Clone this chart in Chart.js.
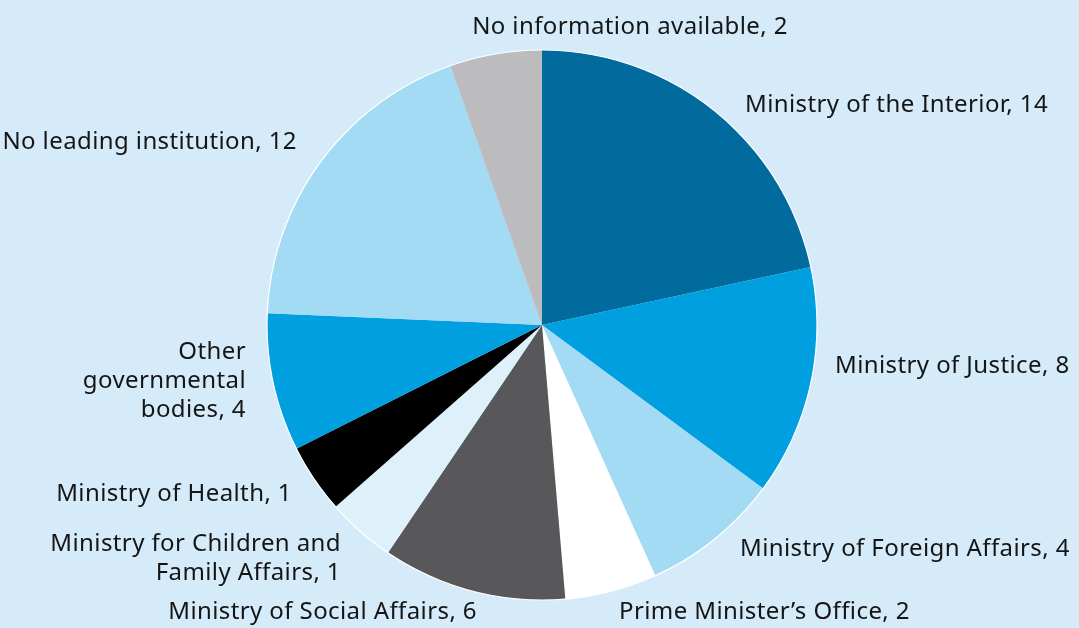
<!DOCTYPE html>
<html>
<head>
<meta charset="utf-8">
<script src="https://cdn.jsdelivr.net/npm/chart.js@4"></script>
<style>
  html, body { margin: 0; padding: 0; background: #d5ebf9; }
  #wrap { width: 1079px; height: 628px; position: relative; }
</style>
</head>
<body>
<div id="wrap"><canvas id="pieChart"></canvas></div>
<script>
// categories and the counts printed in the labels
var categories = [
  ["Ministry of the Interior"],
  ["Ministry of Justice"],
  ["Ministry of Foreign Affairs"],
  ["Prime Minister\u2019s Office"],
  ["Ministry of Social Affairs"],
  ["Ministry for Children and", "Family Affairs"],
  ["Ministry of Health"],
  ["Other", "governmental", "bodies"],
  ["No leading institution"],
  ["No information available"]
];
var counts = [14, 8, 4, 2, 6, 1, 1, 4, 12, 2];
// slice sizes as drawn in the picture (they are not proportional to the counts)
var sliceValues = [16, 10, 6, 4, 8, 3, 3, 6, 14, 4];

var sliceColors = ["#006b9c", "#009fe0", "#a3daf4", "#ffffff", "#58585a",
                   "#def0fa", "#000000", "#009fe0", "#a3daf4", "#bcbcbe"];

// where each label sits, relative to pie centre (px), and its alignment
var labelPlace = [
  {dx: 203, dy: -220, align: "left"},
  {dx: 293, dy: 41, align: "left"},
  {dx: 198, dy: 224, align: "left"},
  {dx: 77, dy: 287, align: "left"},
  {dx: -65, dy: 287, align: "right"},
  {dx: -201, dy: 219, align: "right"},
  {dx: -250, dy: 169, align: "right"},
  {dx: -296, dy: 27, align: "right"},
  {dx: -245, dy: -183, align: "right"},
  {dx: 88, dy: -298, align: "center"}
];

var lineGap = 29;

var labelPlugin = {
  id: "sliceLabels",
  afterDatasetsDraw: function(chart) {
    var ctx = chart.ctx;
    var arc0 = chart.getDatasetMeta(0).data[0];
    var cx = arc0.x, cy = arc0.y, r = arc0.outerRadius;
    // thin white rim round the pie
    ctx.save();
    ctx.beginPath();
    ctx.arc(cx, cy, r, 0, Math.PI * 2);
    ctx.strokeStyle = "#ffffff";
    ctx.lineWidth = 1.2;
    ctx.stroke();
    ctx.fillStyle = "#151515";
    ctx.font = "24px 'Noto Sans'";
    ctx.letterSpacing = "0.4px";
    ctx.textBaseline = "middle";
    for (var i = 0; i < categories.length; i++) {
      var lines = categories[i].slice();
      lines[lines.length - 1] = lines[lines.length - 1] + ", " + counts[i];
      var p = labelPlace[i];
      ctx.textAlign = p.align;
      for (var j = 0; j < lines.length; j++) {
        ctx.fillText(lines[j], cx + p.dx, cy + p.dy + j * lineGap);
      }
    }
    ctx.restore();
  }
};

var ctx = document.getElementById("pieChart").getContext("2d");
var chart = new Chart(ctx, {
  type: "pie",
  data: {
    labels: categories.map(function(c) { return c.join(" "); }),
    datasets: [{
      data: sliceValues,
      backgroundColor: sliceColors,
      borderWidth: 0
    }]
  },
  options: {
    responsive: true,
    maintainAspectRatio: false,
    animation: false,
    layout: { padding: { top: 50, bottom: 28, left: 5, right: 0 } },
    plugins: {
      legend: { display: false },
      tooltip: { enabled: false }
    }
  },
  plugins: [labelPlugin]
});
</script>
</body>
</html>
